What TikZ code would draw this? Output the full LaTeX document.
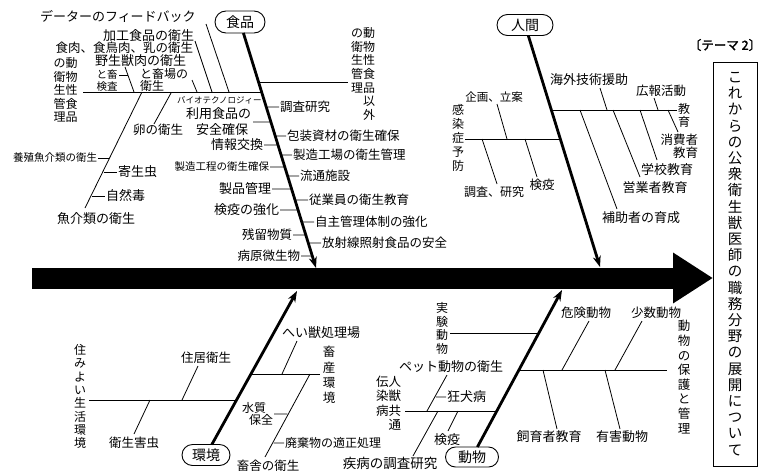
\documentclass[tikz,border=0pt]{standalone}
\usepackage{fontspec}
\setmainfont{Noto Sans CJK JP}
\usetikzlibrary{arrows.meta,shapes.misc}
\begin{document}
\begin{tikzpicture}[x=1pt,y=-1pt,
  every node/.style={inner sep=0pt,outer sep=0pt},
  lab/.style={font=\fontsize{#1}{#1}\selectfont},
  lab/.default=12.5,
  lnk/.style={line width=0.8pt},
  tick/.style={line width=0.8pt,shorten <=1pt,shorten >=1pt},
  bonestyle/.style={line width=2.8pt,-{Stealth[length=11pt,width=8pt]}},
  cat/.style={draw,line width=0.9pt,rounded rectangle,font=\fontsize{14}{14}\selectfont}]
\useasboundingbox (0,0) rectangle (770,474);

% title box and spine
\node[draw,line width=0.9pt,minimum width=44pt,minimum height=404pt,align=center,
      font=\fontsize{14.5}{16.2}\selectfont] (title) at (735,264)
  {こ\\れ\\か\\ら\\の\\公\\衆\\衛\\生\\獣\\医\\師\\の\\職\\務\\分\\野\\の\\展\\開\\に\\つ\\い\\て};
\node[font=\fontsize{12.5}{12.5}\selectfont\addfontfeature{FakeBold=2}] (theme) at (725,45) {〔テーマ 2〕};
\coordinate (spineL) at (32,278);
\draw[line width=21pt,-{Triangle[length=40pt,width=48pt]}] (spineL) -- (spineL -| title.west);

% category nodes and main bones
\node[cat,minimum width=50pt,minimum height=22pt] (shokuhin) at (240,22) {食品};
\node[cat,minimum width=56pt,minimum height=21pt] (ningen) at (525,25) {人間};
\node[cat,minimum width=48pt,minimum height=21pt] (kankyo) at (206,455) {環境};
\node[cat,minimum width=53pt,minimum height=20pt] (doubutsu) at (472,457) {動物};
\coordinate (fTop) at (240,22);   \coordinate (fTip) at (316,268);
\coordinate (nTop) at (525,25);   \coordinate (nTip) at (600,267);
\coordinate (kBot) at (206,455);  \coordinate (kTip) at (297,291);
\coordinate (dBot) at (472,457);  \coordinate (dTip) at (562,290);
\draw[bonestyle] (shokuhin) -- (fTip);
\draw[bonestyle] (ningen) -- (nTip);
\draw[bonestyle] (kankyo) -- (kTip);
\draw[bonestyle] (doubutsu) -- (dTip);

% ===== 食品 : upper left sub-bone
\coordinate (hA1) at (83,92); \coordinate (hA2) at (261.6,92);
\draw[lnk] (hA1) -- (hA2);
\node[align=center,font=\fontsize{12}{13.5}\selectfont] (doubutsusei) at (65.5,90) {の動\\衛物\\生性\\管食\\理品};
\node[lab=13,anchor=west] (feedback) at (40,16) {データーのフィードバック};
\coordinate (fbA) at (206,24); \coordinate (fbB) at (229,92);
\draw[lnk] (fbA) -- (fbB);
\node[lab=13,anchor=east] (kakou) at (194,36) {加工食品の衛生};
\coordinate (kkA) at (195,41); \coordinate (kkB) at (212,92);
\draw[lnk] (kkA) -- (kkB);
\node[lab=12.5,anchor=east] (shokuniku) at (193,48) {食肉、食鳥肉、乳の衛生};
\node[lab=13,anchor=east] (yasei) at (186,61) {野生獣肉の衛生};
\coordinate (ysA) at (125,67); \coordinate (ysB) at (134,92);
\draw[lnk] (ysA) -- (ysB);
\node[align=center,font=\fontsize{10.5}{11.5}\selectfont] (tosatsu) at (107,80.5) {と畜\\検査};
\coordinate (tsA) at (119,75); \coordinate (tsB) at (128,75);
\draw[lnk] (tsA) -- (tsB);
\node[align=left,anchor=west,font=\fontsize{12}{11.5}\selectfont] (tojouba) at (140,80) {と畜場の\\衛生};
\coordinate (tjA) at (192,80); \coordinate (tjB) at (197,92);
\draw[lnk] (tjA) -- (tjB);

% fish line
\coordinate (gkA) at (142,92); \coordinate (gkB) at (85,208);
\draw[lnk] (gkA) -- (gkB);
\node[lab=13] (gyokai) at (96,219) {魚介類の衛生};
\node[lab=10.5,anchor=east] (youshoku) at (97,158) {養殖魚介類の衛生};
\draw[tick] (youshoku.east) -- (intersection of gkA--gkB and youshoku.east--youshoku.west);
\node[lab=13,anchor=west] (kiseichu) at (118,172) {寄生虫};
\draw[tick] (intersection of gkA--gkB and kiseichu.east--kiseichu.west) -- (kiseichu.west);
\node[lab=13,anchor=west] (shizen) at (106,196) {自然毒};
\draw[tick] (intersection of gkA--gkB and shizen.east--shizen.west) -- (shizen.west);
\coordinate (tmA) at (171,93); \coordinate (tmB) at (154,124);
\draw[lnk] (tmA) -- (tmB);
\node[lab=12.5] (tamago) at (158,130) {卵の衛生};

% 食品 bone left labels
\node[lab=8.5,anchor=west] (bio) at (177,100) {バイオテクノロジィー};
\node[lab=13,anchor=east] (riyou) at (251,114) {利用食品の};
\node[lab=13,anchor=east] (anzen) at (248,130) {安全確保};
\coordinate (bioT) at (253,122); \coordinate (bioT2) at (300,122);
\draw[lnk] (bioT) -- (intersection of fTop--fTip and bioT--bioT2);
\node[lab=13,anchor=east] (jouhou) at (263,145) {情報交換};
\draw[tick] (jouhou.east) -- (intersection of fTop--fTip and jouhou.east--jouhou.west);
\node[lab=10.5,anchor=east] (seizoukotei) at (269,167) {製造工程の衛生確保};
\draw[tick] (seizoukotei.east) -- (intersection of fTop--fTip and seizoukotei.east--seizoukotei.west);
\node[lab=13,anchor=east] (seihin) at (271,189) {製品管理};
\draw[tick] (seihin.east) -- (intersection of fTop--fTip and seihin.east--seihin.west);
\node[lab=13,anchor=east] (kenekikyouka) at (279,210) {検疫の強化};
\draw[tick] (kenekikyouka.east) -- (intersection of fTop--fTip and kenekikyouka.east--kenekikyouka.west);
\node[lab=12.5,anchor=east] (zanryu) at (292,235) {残留物質};
\draw[tick] (zanryu.east) -- (intersection of fTop--fTip and zanryu.east--zanryu.west);
\node[lab=12.5,anchor=east] (byougen) at (300,256) {病原微生物};
\draw[tick] (byougen.east) -- (intersection of fTop--fTip and byougen.east--byougen.west);

% 食品 bone right labels
\node[lab,anchor=west] (chousa) at (280,107) {調査研究};
\draw[tick] (intersection of fTop--fTip and chousa.east--chousa.west) -- (chousa.west);
\node[lab,anchor=west] (housou) at (287,136) {包装資材の衛生確保};
\draw[tick] (intersection of fTop--fTip and housou.east--housou.west) -- (housou.west);
\node[lab,anchor=west] (koujou) at (293,155) {製造工場の衛生管理};
\draw[tick] (intersection of fTop--fTip and koujou.east--koujou.west) -- (koujou.west);
\node[lab,anchor=west] (ryutsu) at (300,176) {流通施設};
\draw[tick] (intersection of fTop--fTip and ryutsu.east--ryutsu.west) -- (ryutsu.west);
\node[lab,anchor=west] (jugyoin) at (309,200) {従業員の衛生教育};
\draw[tick] (intersection of fTop--fTip and jugyoin.east--jugyoin.west) -- (jugyoin.west);
\node[lab,anchor=west] (jishu) at (315,222) {自主管理体制の強化};
\draw[tick] (intersection of fTop--fTip and jishu.east--jishu.west) -- (jishu.west);
\node[lab,anchor=west] (housha) at (322,243) {放射線照射食品の安全};
\draw[tick] (intersection of fTop--fTip and housha.east--housha.west) -- (housha.west);

% right sub-bone of 食品
\coordinate (hB1) at (258.5,82); \coordinate (hB2) at (348,82);
\draw[lnk] (hB1) -- (hB2);
\node[align=center,font=\fontsize{12}{13.7}\selectfont] (igai) at (363,74) {の動\\衛物\\生性\\管食\\理品\\　以\\　外};

% ===== 人間
\coordinate (kyA) at (551.3,110); \coordinate (kyB) at (677,110);
\draw[lnk] (kyA) -- (kyB);
\node[align=center,font=\fontsize{12}{13}\selectfont] (kyouiku) at (684,115.5) {教\\育};
\node[lab=13] (kaigai) at (589,80) {海外技術援助};
\coordinate (kgA) at (600,88); \coordinate (kgB) at (607,110);
\draw[lnk] (kgA) -- (kgB);
\node[lab=12.5] (kouhou) at (661,91) {広報活動};
\coordinate (khA) at (654,98); \coordinate (khB) at (658,110);
\draw[lnk] (khA) -- (khB);
\node[lab=13] (hojo) at (641,218) {補助者の育成};
\coordinate (hjA) at (580,110); \coordinate (hjB) at (617,209);
\draw[lnk] (hjA) -- (hjB);
\node[lab=13] (eigyou) at (655,188) {営業者教育};
\coordinate (egA) at (613,110); \coordinate (egB) at (640,177);
\draw[lnk] (egA) -- (egB);
\node[lab=13] (gakkou) at (667,170) {学校教育};
\coordinate (gkkA) at (640,110); \coordinate (gkkB) at (657,160);
\draw[lnk] (gkkA) -- (gkkB);
\node[align=right,anchor=east,font=\fontsize{12.5}{13.5}\selectfont] (shouhi) at (698,146.5) {消費者\\教育};
\coordinate (shA) at (668,110); \coordinate (shB) at (678,132);
\draw[lnk] (shA) -- (shB);

\coordinate (ksA) at (465,139); \coordinate (ksB) at (560.3,139);
\draw[lnk] (ksA) -- (ksB);
\node[align=center,font=\fontsize{12}{14}\selectfont] (kansen) at (458,138) {感\\染\\症\\予\\防};
\node[lab=11.5] (kikaku) at (494,97) {企画、立案};
\coordinate (kkuA) at (497,104); \coordinate (kkuB) at (507,139);
\draw[lnk] (kkuA) -- (kkuB);
\node[lab=12] (chousa2) at (494,192) {調査、研究};
\coordinate (cs2A) at (482,139); \coordinate (cs2B) at (497,184);
\draw[lnk] (cs2A) -- (cs2B);
\node[lab=12.5] (keneki2) at (542,185) {検疫};
\coordinate (ke2A) at (525,139); \coordinate (ke2B) at (537,177);
\draw[lnk] (ke2A) -- (ke2B);

% ===== 環境
\coordinate (smA) at (89,400); \coordinate (smB) at (236.5,400);
\draw[lnk] (smA) -- (smB);
\node[align=center,font=\fontsize{12}{13.3}\selectfont] (sumiyoi) at (80,396.5) {住\\み\\よ\\い\\生\\活\\環\\境};
\node[lab=12.5] (juukyo) at (206,358) {住居衛生};
\coordinate (jkyA) at (182,400); \coordinate (jkyB) at (198,366);
\draw[lnk] (jkyA) -- (jkyB);
\node[lab=12.5] (gaichu) at (134,443) {衛生害虫};
\coordinate (gcA) at (150,400); \coordinate (gcB) at (134,434);
\draw[lnk] (gcA) -- (gcB);

\coordinate (csA) at (250.9,374); \coordinate (csB) at (320,374);
\draw[lnk] (csA) -- (csB);
\node[align=center,font=\fontsize{12.5}{15.3}\selectfont] (chikusan) at (329,375) {畜\\産\\環\\境};
\node[lab=13] (heijuu) at (321,333) {へい獣処理場};
\coordinate (hjuA) at (282,374); \coordinate (hjuB) at (297,341);
\draw[lnk] (hjuA) -- (hjuB);
\coordinate (cshA) at (310,374); \coordinate (cshB) at (265,457);
\draw[lnk] (cshA) -- (cshB);
\node[lab=12.5] (chikusha) at (268,466) {畜舎の衛生};
\node[align=left,anchor=west,font=\fontsize{12}{12.5}\selectfont] (suishitsu) at (242,414) {水質\\\hspace{7pt}保全};
\draw[tick] (suishitsu.east) -- (intersection of cshA--cshB and suishitsu.east--suishitsu.west);
\node[lab=12,anchor=west] (haiki) at (285,443) {廃棄物の適正処理};
\draw[tick] (intersection of cshA--cshB and haiki.east--haiki.west) -- (haiki.west);

% ===== 動物
\coordinate (jkA) at (450,333); \coordinate (jkB) at (538.8,333);
\draw[lnk] (jkA) -- (jkB);
\node[align=center,font=\fontsize{12}{13.7}\selectfont] (jikken) at (442,328.5) {実\\験\\動\\物};
\coordinate (jjA) at (405,411); \coordinate (jjB) at (496.8,411);
\draw[lnk] (jjA) -- (jjB);
\node[align=center,font=\fontsize{12.5}{14.5}\selectfont] (jinjuu) at (388.5,403) {伝人\\染獣\\病共\\　通};
\node[lab=13] (pet) at (451,367) {ペット動物の衛生};
\coordinate (ptA) at (427,411); \coordinate (ptB) at (447,375);
\draw[lnk] (ptA) -- (ptB);
\node[lab=13,anchor=west] (kyouken) at (447,397) {狂犬病};
\draw[tick] (intersection of ptA--ptB and kyouken.east--kyouken.west) -- (kyouken.west);
\node[lab=13.5] (shippei) at (390,463) {疾病の調査研究};
\coordinate (spA) at (438,411); \coordinate (spB) at (413,456);
\draw[lnk] (spA) -- (spB);
\node[lab=13] (keneki3) at (447,440) {検疫};
\coordinate (k3A) at (458,411); \coordinate (k3B) at (448,431);
\draw[lnk] (k3A) -- (k3B);

\coordinate (hgA) at (518.9,370); \coordinate (hgB) at (667,370);
\draw[lnk] (hgA) -- (hgB);
\node[align=center,font=\fontsize{12.5}{14.6}\selectfont] (hogo) at (684,377) {動\\物\\の\\保\\護\\と\\管\\理};
\node[lab=12.5] (kiken) at (586,313) {危険動物};
\coordinate (kkA2) at (562,370); \coordinate (kkB2) at (589,321);
\draw[lnk] (kkA2) -- (kkB2);
\node[lab=12.5] (shousuu) at (656,313) {少数動物};
\coordinate (ssA) at (615,370); \coordinate (ssB) at (642,321);
\draw[lnk] (ssA) -- (ssB);
\node[lab=13] (shiiku) at (549,437) {飼育者教育};
\coordinate (siA) at (543,370); \coordinate (siB) at (557,429);
\draw[lnk] (siA) -- (siB);
\node[lab=13] (yuugai) at (622,437) {有害動物};
\coordinate (ygA) at (605,370); \coordinate (ygB) at (620,429);
\draw[lnk] (ygA) -- (ygB);
\end{tikzpicture}
\end{document}
